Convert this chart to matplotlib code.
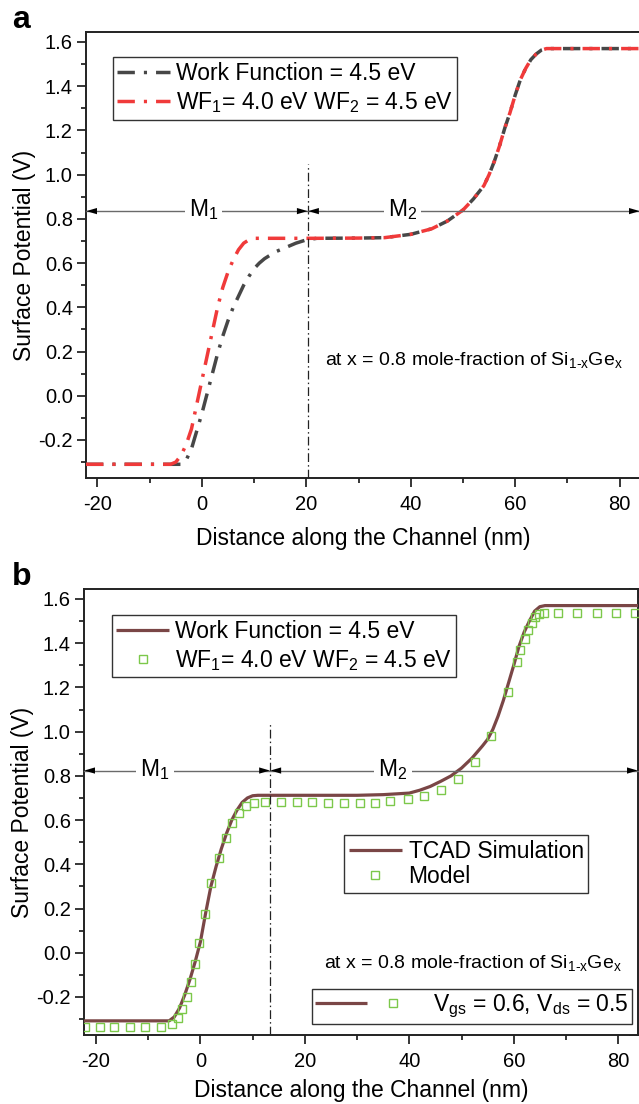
import matplotlib
matplotlib.use("Agg")
import matplotlib.pyplot as plt
from matplotlib.ticker import MultipleLocator, NullFormatter
from matplotlib.legend_handler import HandlerTuple

plt.rcParams['font.family'] = ['Liberation Sans', 'DejaVu Sans']
plt.rcParams['mathtext.fontset'] = 'custom'
plt.rcParams['mathtext.rm'] = 'Liberation Sans'
plt.rcParams['mathtext.it'] = 'Liberation Sans'
plt.rcParams['mathtext.default'] = 'regular'
plt.rcParams['axes.unicode_minus'] = False

# ---------------- panel (a): surface potential for two gate work functions
a_uniform_x = [-22.2, -4, -3, -2, -1, 0, 1, 2, 3, 4, 5, 6, 7, 8, 9, 10, 11, 12, 13, 14,
               16, 18, 20, 22, 30, 35, 40, 44, 47, 50, 52, 54, 55, 56, 57, 58, 59, 60,
               61, 62, 63, 64, 65, 66, 84]
a_uniform_y = [-0.31, -0.31, -0.29, -0.24, -0.16, -0.08, 0.01, 0.10, 0.19, 0.27, 0.34,
               0.40, 0.45, 0.50, 0.54, 0.575, 0.60, 0.62, 0.635, 0.65, 0.67, 0.69, 0.705,
               0.712, 0.713, 0.715, 0.73, 0.755, 0.79, 0.84, 0.89, 0.95, 1.00, 1.06, 1.13,
               1.21, 1.28, 1.36, 1.43, 1.48, 1.52, 1.545, 1.563, 1.57, 1.57]

a_dual_x = [-22.2, -6, -5, -4, -3, -2, -1, 0, 1, 2, 3, 4, 5, 6, 7, 8, 9, 10, 22, 30, 35,
            40, 44, 47, 50, 52, 54, 55, 56, 57, 58, 59, 60, 61, 62, 63, 64, 65, 66, 84]
a_dual_y = [-0.31, -0.31, -0.30, -0.27, -0.22, -0.15, -0.04, 0.07, 0.18, 0.29, 0.40,
            0.49, 0.56, 0.615, 0.66, 0.69, 0.705, 0.712, 0.712, 0.713, 0.715, 0.73,
            0.755, 0.79, 0.84, 0.89, 0.95, 1.00, 1.06, 1.13, 1.21, 1.28, 1.36, 1.43,
            1.48, 1.52, 1.545, 1.563, 1.57, 1.57]

a_boundary = 20.3
a_arrow_y = 0.835
a_m1_x, a_m2_x = 0.3, 38.4

# ---------------- panel (b): TCAD simulation vs. analytical model
b_tcad_x = [-22.3, -6, -5, -4, -3, -2, -1, 0, 1, 2, 3, 4, 5, 6, 7, 8, 9, 10, 11, 30, 35,
            40, 42, 44, 46, 48, 50, 52, 54, 55, 56, 57, 58, 59, 60, 61, 62, 63, 64, 65,
            66, 84]
b_tcad_y = [-0.308, -0.308, -0.29, -0.25, -0.19, -0.12, -0.04, 0.05, 0.18, 0.30, 0.39,
            0.47, 0.54, 0.60, 0.645, 0.68, 0.70, 0.71, 0.712, 0.712, 0.715, 0.722,
            0.735, 0.752, 0.775, 0.80, 0.835, 0.88, 0.935, 0.965, 1.01, 1.07, 1.14, 1.22,
            1.30, 1.385, 1.45, 1.50, 1.545, 1.565, 1.57, 1.57]

b_model_x = [-22.1, -19.2, -16.5, -13.5, -10.6, -7.6, -5.4, -4.3, -3.5, -2.6, -1.8, -1.0,
             -0.25, 0.84, 2.1, 3.5, 4.9, 6.1, 7.4, 8.7, 10.2, 12.4, 15.5, 18.5, 21.3,
             24.5, 27.4, 30.5, 33.4, 36.3, 39.7, 42.9, 46.1, 49.3, 52.5, 55.7, 58.9,
             60.6, 61.2, 62.1, 62.8, 63.5, 64.1, 64.8, 65.8, 68.4, 72.1, 75.9, 79.6, 83.3]
b_model_y = [-0.338, -0.338, -0.338, -0.338, -0.338, -0.338, -0.32, -0.296, -0.256,
             -0.198, -0.133, -0.051, 0.042, 0.177, 0.316, 0.428, 0.52, 0.586, 0.632,
             0.664, 0.679, 0.681, 0.681, 0.681, 0.681, 0.679, 0.679, 0.679, 0.679, 0.688,
             0.695, 0.71, 0.737, 0.785, 0.862, 0.982, 1.177, 1.313, 1.368, 1.418, 1.458,
             1.491, 1.518, 1.533, 1.538, 1.538, 1.538, 1.538, 1.538, 1.538]

b_boundary = 13.35
b_arrow_y = 0.824
b_m1_x, b_m2_x = -8.7, 36.9

y_ticks = [-0.2, 0.0, 0.2, 0.4, 0.6, 0.8, 1.0, 1.2, 1.4, 1.6]
x_ticks = [-20, 0, 20, 40, 60, 80]

C_GRAY = '#474747'
C_RED = '#F03A3A'
C_BROWN = '#7A4646'
C_GREEN = '#7CC84A'

FS_TICK = 14.5
FS_TEXT = 16.5
FS_NOTE = 14

fig = plt.figure(figsize=(6.39, 11.04), dpi=100)
W, H = 639.0, 1104.0
ax_a = fig.add_axes([86 / W, 1 - 478 / H, 554 / W, 446 / H])
ax_b = fig.add_axes([84 / W, 1 - 1035 / H, 554 / W, 446 / H])


def style_axes(ax, xlim, xpad):
    ax.set_xlim(*xlim)
    ax.set_ylim(-0.372, 1.645)
    ax.set_xticks(x_ticks)
    ax.set_yticks(y_ticks)
    ax.set_yticklabels(['%.1f' % v for v in y_ticks])
    ax.xaxis.set_minor_locator(MultipleLocator(10))
    ax.yaxis.set_minor_locator(MultipleLocator(0.1))
    ax.tick_params(which='both', direction='out', width=1.1, labelsize=FS_TICK,
                   top=False, right=False)
    ax.tick_params(axis='x', pad=6)
    ax.tick_params(axis='y', pad=3)
    ax.tick_params(which='major', length=6.5)
    ax.tick_params(which='minor', length=3.5)
    for s in ax.spines.values():
        s.set_linewidth(1.4)
        s.set_color('#222222')
    ax.set_xlabel('Distance along the Channel (nm)', fontsize=FS_TEXT, labelpad=xpad)
    ax.set_ylabel('Surface Potential (V)', fontsize=FS_TEXT, labelpad=2)

    # independent inward ticks along the top and right frame
    ov = fig.add_axes(ax.get_position(), frameon=False)
    ov.set_xlim(0, 1)
    ov.set_ylim(0, 1)
    ov.xaxis.tick_top()
    ov.yaxis.tick_right()
    ov.xaxis.set_major_locator(MultipleLocator(0.2))
    ov.xaxis.set_minor_locator(MultipleLocator(0.1))
    ov.yaxis.set_major_locator(MultipleLocator(0.2))
    ov.yaxis.set_minor_locator(MultipleLocator(0.1))
    ov.xaxis.set_major_formatter(NullFormatter())
    ov.yaxis.set_major_formatter(NullFormatter())
    ov.tick_params(which='both', direction='in', width=1.1, bottom=False, left=False)
    ov.tick_params(which='major', length=6.5)
    ov.tick_params(which='minor', length=3.5)
    ov.patch.set_visible(False)
    ov.set_zorder(ax.get_zorder() - 1)


def head(ax, x, y, direction):
    ax.annotate('', xy=(x, y), xytext=(x - direction * 0.5, y),
                arrowprops=dict(arrowstyle='-|>,head_length=0.55,head_width=0.16',
                                color='black', lw=0.01, shrinkA=0, shrinkB=0,
                                mutation_scale=14), zorder=6)


def regions(ax, xlim, xb, ytop, y_arrow, m1x, m2x):
    ax.plot([xb, xb], [-0.372, ytop], color='#222222', lw=0.9,
            linestyle=(0, (7, 2.5, 1.2, 2.5)), zorder=4)
    ax.plot([xlim[0], xlim[1]], [y_arrow, y_arrow], color='#6a6a6a', lw=1.0,
            zorder=4, clip_on=False)
    head(ax, xlim[0] + 0.05, y_arrow, -1)
    head(ax, xb - 0.05, y_arrow, 1)
    head(ax, xb + 0.05, y_arrow, -1)
    head(ax, xlim[1] - 0.05, y_arrow, 1)
    for xm, lab in ((m1x, r'M$_1$'), (m2x, r'M$_2$')):
        ax.text(xm, y_arrow + 0.005, lab, fontsize=FS_TEXT, ha='center', va='center',
                zorder=5, bbox=dict(facecolor='white', edgecolor='none', pad=3))


note = r'at x = 0.8 mole-fraction of Si$_{1\text{-}x}$Ge$_x$'

legend_style = dict(loc='upper left', borderaxespad=0, fontsize=FS_TEXT, frameon=True,
                    fancybox=False, edgecolor='#333333', framealpha=1)

# ---- panel a
xlim_a = (-22.2, 83.9)
style_axes(ax_a, xlim_a, 9)
dashdot = (0, (5.0, 2.6, 0.9, 2.6))
la1, = ax_a.plot(a_uniform_x, a_uniform_y, color=C_GRAY, lw=2.5, linestyle=dashdot,
                 zorder=3)
la2, = ax_a.plot(a_dual_x, a_dual_y, color=C_RED, lw=2.5, linestyle=dashdot, zorder=3)
regions(ax_a, xlim_a, a_boundary, 1.047, a_arrow_y, a_m1_x, a_m2_x)
leg = ax_a.legend([la1, la2], ['Work Function = 4.5 eV',
                               r'WF$_1$= 4.0 eV WF$_2$ = 4.5 eV'],
                  bbox_to_anchor=(0.048, 0.943), handlelength=2.3, handletextpad=0.25,
                  labelspacing=0.22, borderpad=0.2, **legend_style)
leg.get_frame().set_linewidth(1.0)
ax_a.text(23.6, 0.161, note, fontsize=FS_NOTE, ha='left', va='center')
fig.text(12 / W, 1 - 20 / H, 'a', fontsize=23, fontweight='bold', ha='left',
         va='center')

# ---- panel b
xlim_b = (-22.3, 83.8)
style_axes(ax_b, xlim_b, 5.5)
lb1, = ax_b.plot(b_tcad_x, b_tcad_y, color=C_BROWN, lw=2.3, zorder=3,
                 solid_capstyle='butt')
lb2, = ax_b.plot(b_model_x, b_model_y, linestyle='none', marker='s', markersize=6.4,
                 markerfacecolor='none', markeredgecolor=C_GREEN, markeredgewidth=1.0,
                 zorder=3)
regions(ax_b, xlim_b, b_boundary, 1.042, b_arrow_y, b_m1_x, b_m2_x)

leg1 = ax_b.legend([lb1, lb2], ['Work Function = 4.5 eV',
                                r'WF$_1$= 4.0 eV WF$_2$ = 4.5 eV'],
                   bbox_to_anchor=(0.05, 0.9417), handlelength=2.3, handletextpad=0.25,
                   labelspacing=0.22, borderpad=0.2, **legend_style)
leg1.get_frame().set_linewidth(1.0)
ax_b.add_artist(leg1)

leg2 = ax_b.legend([lb1, lb2], ['TCAD Simulation', 'Model'],
                   bbox_to_anchor=(0.47, 0.4484), handlelength=2.3, handletextpad=0.3,
                   labelspacing=0.12, borderpad=0.2, **legend_style)
leg2.get_frame().set_linewidth(1.0)
ax_b.add_artist(leg2)

leg3 = ax_b.legend([(lb1, lb2)], [r'V$_{gs}$ = 0.6, V$_{ds}$ = 0.5'],
                   handler_map={tuple: HandlerTuple(ndivide=None, pad=0.0)},
                   bbox_to_anchor=(0.4116, 0.1025), handlelength=4.5, handletextpad=0.65,
                   borderpad=0.15, **legend_style)
leg3.get_frame().set_linewidth(1.0)

ax_b.text(23.6, -0.045, note, fontsize=FS_NOTE, ha='left', va='center')
fig.text(12 / W, 1 - 577 / H, 'b', fontsize=23, fontweight='bold', ha='left',
         va='center')

fig.savefig('out.png', dpi=100)
